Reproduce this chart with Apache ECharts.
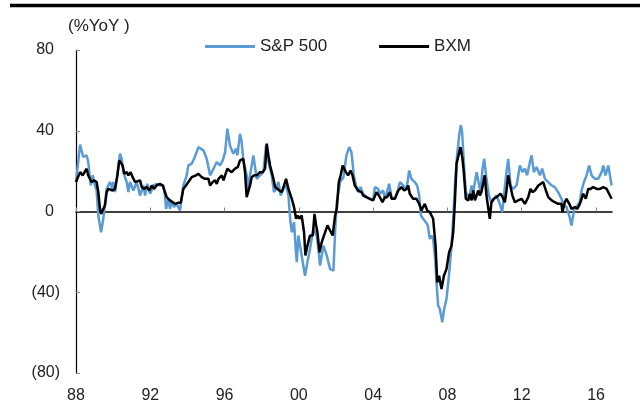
<!DOCTYPE html>
<html>
<head>
<meta charset="utf-8">
<script src="https://cdn.jsdelivr.net/npm/echarts@6/dist/echarts.min.js"></script>
<style>
  html, body { margin: 0; padding: 0; background: #fff; }
  #chart { width: 640px; height: 415px; }
</style>
</head>
<body>
<div id="chart"></div>
<script>
// [year, %YoY]
const spx = [
  [1988.00, 14.6], [1988.22, 33.1], [1988.39, 27.0], [1988.57, 27.8], [1988.66, 24.5], [1988.79, 12.9],
  [1988.90, 17.9], [1989.02, 12.9], [1989.11, 10.4], [1989.20, -2.0], [1989.35, -10.3], [1989.47, -3.6],
  [1989.56, -3.6], [1989.65, 11.2], [1989.83, 14.6], [1989.96, 11.2], [1990.01, 14.6], [1990.10, 9.6],
  [1990.37, 28.6], [1990.46, 26.1], [1990.55, 19.5], [1990.73, 14.6], [1990.82, 9.6], [1990.91, 14.6],
  [1991.09, 10.4], [1991.27, 14.6], [1991.45, 7.9], [1991.63, 12.9], [1991.72, 7.9], [1991.84, 13.7],
  [1991.99, 8.8], [1992.17, 12.9], [1992.34, 13.7], [1992.52, 12.9], [1992.70, 12.9], [1992.79, 7.9],
  [1992.85, 1.3], [1992.97, 6.3], [1993.06, 1.3], [1993.15, 4.6], [1993.28, 2.2], [1993.42, 3.8],
  [1993.60, 0.5], [1993.78, 12.9], [1993.96, 17.9], [1994.05, 22.8], [1994.23, 23.7], [1994.36, 26.1],
  [1994.59, 31.9], [1994.68, 32.7], [1994.86, 30.3], [1995.04, 26.1], [1995.22, 17.9], [1995.40, 21.2],
  [1995.58, 24.5], [1995.76, 22.8], [1995.90, 25.3], [1996.03, 29.4], [1996.15, 41.0], [1996.29, 32.7],
  [1996.47, 28.6], [1996.62, 31.1], [1996.69, 27.8], [1996.83, 38.5], [1996.92, 34.4], [1997.01, 25.3],
  [1997.19, 17.9], [1997.28, 11.2], [1997.37, 17.9], [1997.55, 27.8], [1997.73, 16.2], [1997.91, 17.9],
  [1998.09, 19.5], [1998.23, 32.7], [1998.36, 24.5], [1998.54, 17.9], [1998.66, 9.6], [1998.77, 11.2],
  [1998.90, 14.6], [1999.02, 7.9], [1999.17, 11.2], [1999.31, 12.9], [1999.44, 7.9], [1999.53, -3.6],
  [1999.62, -10.3], [1999.74, -5.3], [1999.83, -18.5], [1999.89, -25.1], [1999.97, -11.9], [2000.15, -21.8],
  [2000.33, -31.8], [2000.46, -25.1], [2000.60, -18.5], [2000.78, -8.6], [2000.96, -11.9], [2001.05, -18.5],
  [2001.14, -26.8], [2001.32, -16.9], [2001.50, -21.8], [2001.68, -28.4], [2001.86, -29.3], [2001.95, -10.3],
  [2002.04, 4.6], [2002.22, 14.6], [2002.40, 17.0], [2002.56, 27.8], [2002.71, 31.9], [2002.83, 29.4],
  [2002.96, 17.9], [2003.07, 12.9], [2003.19, 9.6], [2003.32, 12.1], [2003.46, 8.8], [2003.64, 7.1],
  [2003.82, 6.3], [2004.00, 5.5], [2004.09, 12.1], [2004.27, 11.2], [2004.36, 8.8], [2004.54, 10.4],
  [2004.63, 6.3], [2004.72, 8.8], [2004.86, 13.7], [2004.99, 7.1], [2005.17, 6.3], [2005.35, 11.2],
  [2005.44, 14.6], [2005.62, 12.9], [2005.80, 11.2], [2005.94, 20.3], [2006.06, 16.2], [2006.24, 14.6],
  [2006.37, 12.9], [2006.48, 7.9], [2006.57, -2.0], [2006.69, -3.6], [2006.84, -5.3], [2006.94, -6.9],
  [2007.05, -13.6], [2007.14, -11.9], [2007.23, -13.6], [2007.34, -23.5], [2007.41, -35.1], [2007.50, -46.6],
  [2007.59, -48.3], [2007.72, -54.9], [2007.82, -48.3], [2007.95, -43.3], [2008.08, -31.8], [2008.22, -16.9],
  [2008.31, -3.6], [2008.40, 12.9], [2008.52, 27.8], [2008.63, 37.7], [2008.72, 42.7], [2008.79, 39.4],
  [2008.88, 24.5], [2008.99, 9.6], [2009.08, 7.9], [2009.17, 6.3], [2009.30, 12.9], [2009.39, 9.6],
  [2009.57, 19.5], [2009.71, 12.9], [2009.78, 9.6], [2009.89, 21.2], [2009.98, 26.1], [2010.10, 16.2],
  [2010.23, 7.9], [2010.37, 4.6], [2010.50, 6.3], [2010.64, 7.9], [2010.82, 3.8], [2010.95, -0.3],
  [2011.06, 9.6], [2011.18, 19.5], [2011.27, 26.1], [2011.40, 12.9], [2011.54, 11.2], [2011.72, 12.9],
  [2011.90, 22.8], [2012.04, 19.5], [2012.17, 21.2], [2012.29, 17.9], [2012.44, 24.5], [2012.53, 27.8],
  [2012.65, 19.5], [2012.80, 22.0], [2012.98, 17.9], [2013.10, 21.2], [2013.25, 16.2], [2013.43, 14.6],
  [2013.61, 12.9], [2013.78, 12.1], [2013.96, 9.6], [2014.14, 6.3], [2014.27, 3.0], [2014.41, 2.2],
  [2014.56, -2.0], [2014.68, -6.9], [2014.83, 1.3], [2014.99, 3.0], [2015.13, 4.6], [2015.22, 10.4],
  [2015.35, 14.6], [2015.49, 17.9], [2015.63, 22.8], [2015.76, 17.9], [2015.94, 16.2], [2016.12, 16.2],
  [2016.21, 17.9], [2016.30, 19.5], [2016.39, 22.8], [2016.51, 17.9], [2016.66, 22.8], [2016.84, 12.9]
];

const bxm = [
  [1988.00, 14.6], [1988.22, 19.5], [1988.36, 17.9], [1988.57, 21.2], [1988.66, 17.9], [1988.75, 16.2],
  [1988.84, 14.6], [1988.97, 15.4], [1989.11, 14.6], [1989.20, 9.6], [1989.29, 1.3], [1989.35, -1.2],
  [1989.47, 1.3], [1989.56, 3.0], [1989.65, 9.6], [1989.74, 11.2], [1989.83, 12.1], [1989.97, 10.4],
  [1990.10, 11.2], [1990.23, 17.9], [1990.33, 25.3], [1990.41, 26.1], [1990.51, 22.8], [1990.60, 18.7],
  [1990.73, 19.5], [1990.82, 17.9], [1990.94, 19.5], [1991.05, 17.0], [1991.18, 14.6], [1991.27, 13.7],
  [1991.45, 15.4], [1991.54, 12.1], [1991.66, 11.2], [1991.81, 12.1], [1991.95, 10.4], [1992.08, 12.9],
  [1992.20, 11.2], [1992.34, 12.9], [1992.52, 13.7], [1992.67, 12.9], [1992.79, 9.6], [1992.88, 7.1],
  [1992.97, 6.3], [1993.06, 5.5], [1993.15, 4.6], [1993.33, 3.8], [1993.51, 4.3], [1993.64, 4.3],
  [1993.78, 11.2], [1993.92, 12.9], [1994.05, 14.6], [1994.23, 17.0], [1994.32, 16.2], [1994.46, 17.9],
  [1994.59, 18.7], [1994.77, 17.0], [1994.95, 16.2], [1995.13, 16.2], [1995.22, 12.9], [1995.36, 14.6],
  [1995.49, 15.4], [1995.58, 13.7], [1995.67, 16.2], [1995.85, 17.9], [1995.94, 15.4], [1996.03, 16.2],
  [1996.15, 21.2], [1996.26, 20.3], [1996.38, 19.5], [1996.56, 21.2], [1996.71, 22.0], [1996.83, 25.3],
  [1996.92, 24.5], [1997.01, 26.1], [1997.10, 19.5], [1997.19, 7.1], [1997.37, 12.9], [1997.46, 17.0],
  [1997.59, 17.9], [1997.73, 17.9], [1997.91, 19.5], [1998.05, 19.5], [1998.18, 21.2], [1998.27, 33.6],
  [1998.36, 27.8], [1998.45, 22.8], [1998.54, 19.5], [1998.63, 16.2], [1998.72, 12.1], [1998.81, 11.2],
  [1998.95, 10.4], [1999.08, 9.6], [1999.20, 12.9], [1999.31, 16.2], [1999.44, 11.2], [1999.53, 10.4],
  [1999.62, 6.3], [1999.74, 2.2], [1999.85, -3.6], [1999.94, -2.0], [2000.03, -3.6], [2000.15, -2.0],
  [2000.28, -10.3], [2000.35, -21.8], [2000.46, -16.9], [2000.60, -11.9], [2000.75, -11.9], [2000.84, -1.2],
  [2000.93, -6.9], [2001.00, -10.3], [2001.11, -20.2], [2001.23, -15.2], [2001.41, -10.3], [2001.54, -6.9],
  [2001.68, -9.4], [2001.82, -11.9], [2001.95, -2.0], [2002.04, 1.3], [2002.15, 14.6], [2002.25, 17.9],
  [2002.36, 22.8], [2002.53, 19.5], [2002.65, 17.9], [2002.78, 20.3], [2002.89, 17.9], [2003.01, 12.9],
  [2003.10, 12.9], [2003.19, 10.4], [2003.28, 11.2], [2003.37, 9.6], [2003.46, 7.9], [2003.64, 7.1],
  [2003.82, 6.3], [2004.00, 5.5], [2004.18, 9.6], [2004.36, 7.1], [2004.50, 4.6], [2004.63, 7.1],
  [2004.75, 7.1], [2004.90, 9.6], [2004.99, 6.3], [2005.17, 6.3], [2005.35, 10.4], [2005.53, 12.1],
  [2005.67, 10.4], [2005.80, 11.2], [2005.89, 12.9], [2005.97, 8.8], [2006.15, 6.3], [2006.33, 6.3],
  [2006.48, 3.8], [2006.60, 0.5], [2006.69, 2.2], [2006.78, 3.8], [2006.91, 0.5], [2007.05, -0.3],
  [2007.14, -1.2], [2007.23, -3.6], [2007.36, -16.9], [2007.45, -35.1], [2007.55, -31.8], [2007.68, -38.4],
  [2007.81, -31.8], [2007.95, -28.4], [2008.09, -20.2], [2008.22, -16.9], [2008.31, -10.3], [2008.40, 4.6],
  [2008.49, 23.7], [2008.58, 24.5], [2008.70, 31.9], [2008.81, 26.1], [2008.88, 19.5], [2008.99, 6.3],
  [2009.12, 5.5], [2009.21, 8.8], [2009.30, 5.5], [2009.39, 10.4], [2009.48, 5.5], [2009.66, 10.4],
  [2009.75, 7.9], [2009.83, 9.6], [2009.92, 13.7], [2010.01, 17.9], [2010.10, 7.9], [2010.28, -3.6],
  [2010.37, 4.6], [2010.50, 6.3], [2010.64, 7.1], [2010.73, 6.3], [2010.86, 8.8], [2010.97, 7.1],
  [2011.09, 4.6], [2011.18, 10.4], [2011.27, 17.9], [2011.36, 13.7], [2011.50, 7.9], [2011.63, 4.6],
  [2011.81, 5.5], [2011.99, 6.3], [2012.17, 3.8], [2012.35, 7.1], [2012.47, 11.2], [2012.58, 9.6],
  [2012.71, 10.4], [2012.89, 12.9], [2012.98, 12.1], [2013.16, 14.6], [2013.30, 10.4], [2013.43, 7.1],
  [2013.61, 5.5], [2013.78, 4.6], [2013.96, 3.8], [2014.14, 3.8], [2014.19, -0.3], [2014.32, 4.6],
  [2014.41, 6.3], [2014.56, 3.8], [2014.68, 1.3], [2014.86, 2.2], [2014.99, 1.3], [2015.13, 3.8],
  [2015.22, 3.8], [2015.31, 8.8], [2015.45, 6.3], [2015.58, 11.2], [2015.71, 11.2], [2015.85, 12.1],
  [2016.03, 11.2], [2016.21, 11.2], [2016.39, 12.1], [2016.57, 11.2], [2016.75, 7.9], [2016.84, 6.3]
];

const yearTicks = [1988, 1992, 1996, 2000, 2004, 2008, 2012, 2016];
const seriesNames = ["S&P 500", "BXM"];

const font = "'Liberation Sans', Arial, sans-serif";

let myChart = echarts.init(document.getElementById("chart"), null, { renderer: "canvas" });

let option = {
  animation: false,
  backgroundColor: "#fff",
  textStyle: { fontFamily: font },
  grid: { left: 76, right: 28, top: 50, bottom: 42 },
  legend: {
    data: seriesNames,
    left: 205,
    top: 38,
    padding: 0,
    icon: "rect",
    itemWidth: 50,
    itemHeight: 3,
    itemGap: 52,
    textStyle: { fontSize: 17, color: "#222", fontFamily: font }
  },
  graphic: [
    { type: "line", shape: { x1: 10, y1: 5.5, x2: 640, y2: 5.5 }, style: { stroke: "#000", lineWidth: 3.5 } },
    { type: "text", left: 68, top: 18, style: { text: "(%YoY )", fontSize: 17, fill: "#222", fontFamily: font } }
  ],
  xAxis: [
    {
      type: "value",
      min: 1988,
      max: 2016.86,
      interval: 4,
      axisLine: { show: false, onZero: false },
      axisTick: { show: false },
      splitLine: { show: false },
      axisLabel: {
        customValues: yearTicks,
        margin: 15,
        fontSize: 16,
        color: "#222",
        formatter: (v) => String(v).slice(2)
      }
    },
    {
      type: "value",
      min: 1988,
      max: 2016.86,
      interval: 4,
      position: "bottom",
      axisLine: { show: true, onZero: true, lineStyle: { color: "#000", width: 1.5 } },
      axisTick: { show: true, inside: true, length: 4, customValues: yearTicks, lineStyle: { color: "#888" } },
      axisLabel: { show: false },
      splitLine: { show: false }
    }
  ],
  yAxis: {
    type: "value",
    min: -80,
    max: 80,
    interval: 40,
    axisLine: { show: true, lineStyle: { color: "#000", width: 1.2 } },
    axisTick: { show: true, inside: true, length: 4, lineStyle: { color: "#888" } },
    splitLine: { show: false },
    axisLabel: {
      margin: 16,
      fontSize: 16,
      color: "#222",
      formatter: (v) => (v < 0 ? "(" + -v + ")" : "{p|" + v + "}"),
      rich: { p: { fontSize: 16, color: "#222", padding: [0, 6, 0, 0] } }
    }
  },
  series: [
    {
      name: seriesNames[0],
      type: "line",
      data: spx,
      showSymbol: false,
      lineStyle: { color: "#5B9BD5", width: 2.5 },
      itemStyle: { color: "#5B9BD5" }
    },
    {
      name: seriesNames[1],
      type: "line",
      data: bxm,
      showSymbol: false,
      lineStyle: { color: "#000", width: 2.5 },
      itemStyle: { color: "#000" }
    }
  ]
};

myChart.setOption(option);
</script>
</body>
</html>
